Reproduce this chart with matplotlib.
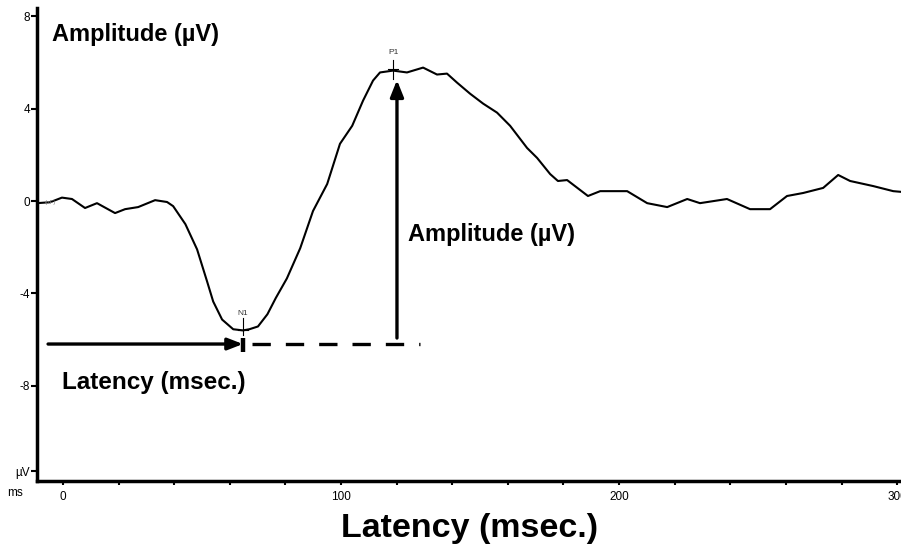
import numpy as np
import matplotlib.pyplot as plt

# ERP waveform (ms, uV)
latency = [-9.4, -4.7, -0.4, 3.2, 7.9, 12.2, 18.7, 22.3, 27.0, 33.1, 37.4, 39.6,
           44.0, 48.2, 51.8, 54.0, 57.2, 61.2, 64.7, 67.0, 70.1, 73.5, 76.5, 80.5,
           85.3, 89.9, 95.0, 99.6, 104.0, 107.9, 111.5, 114.0, 118.7, 123.7, 129.5,
           134.5, 138.1, 141.7, 146.4, 151.1, 156.1, 160.8, 166.9, 170.5, 175.2,
           178.0, 181.3, 188.8, 193.2, 202.9, 210.1, 217.3, 224.5, 229.1, 238.8,
           247.1, 254.3, 260.4, 266.2, 273.4, 278.8, 283.1, 291.4, 298.6, 301.4]
amplitude = [-0.09, -0.05, 0.15, 0.09, -0.30, -0.09, -0.52, -0.35, -0.26, 0.04, -0.04, -0.22,
             -1.00, -2.09, -3.48, -4.35, -5.13, -5.55, -5.60, -5.55, -5.43, -4.90, -4.20, -3.35,
             -2.04, -0.43, 0.74, 2.48, 3.26, 4.35, 5.22, 5.57, 5.65, 5.57, 5.78,
             5.48, 5.52, 5.13, 4.65, 4.22, 3.83, 3.26, 2.30, 1.87, 1.17,
             0.87, 0.91, 0.22, 0.43, 0.43, -0.09, -0.26, 0.09, -0.09, 0.09,
             -0.35, -0.35, 0.22, 0.35, 0.57, 1.13, 0.87, 0.65, 0.43, 0.40]

y_ticks = [8, 4, 0, -4, -8, -11.7]
y_tick_labels = ["8", "4", "0", "-4", "-8", "µV"]
x_ticks = [0, 100, 200, 300]
x_minor = np.arange(0, 301, 20)

n1 = (64.7, -5.6)
p1 = (118.7, 5.7)
base_level = -6.19

plt.rcParams['font.family'] = ['Liberation Sans', 'DejaVu Sans']

fig = plt.figure(figsize=(9.01, 5.5), dpi=100)
ax = fig.add_axes([0.041, 0.1255, 0.959, 0.8595])
ax.set_xlim(-9.4, 301.4)
ax.set_ylim(-12.12, 8.35)

ax.plot(latency, amplitude, color='black', lw=1.5, solid_joinstyle='round')

# axes look
for s in ['top', 'right']:
    ax.spines[s].set_visible(False)
ax.spines['left'].set_linewidth(2.5)
ax.spines['bottom'].set_linewidth(2.5)
ax.set_yticks(y_ticks)
ax.set_yticklabels(y_tick_labels)
ax.set_xticks(x_ticks)
ax.set_xticks(x_minor, minor=True)
ax.tick_params(axis='y', direction='out', length=4, width=1.5, labelsize=8.5, pad=1)
ax.tick_params(axis='x', which='both', direction='out', length=3, width=1.5,
               labelsize=8.5, pad=4)
ax.text(-17.3, -12.64, "ms", fontsize=8.5, ha='center', va='center', clip_on=False)
ax.text(-6.5, -0.05, "(uF)", fontsize=4.5, color='gray', ha='left', va='center')

# peak markers
ax.plot([n1[0], n1[0]], [-5.06, -5.8], color='black', lw=0.8)
ax.plot([n1[0] - 1.8, n1[0] + 1.8], [n1[1], n1[1]], color='black', lw=0.8)
ax.text(n1[0], -4.85, "N1", fontsize=6, ha='center', va='center', color='#333333')
ax.plot([p1[0], p1[0]], [6.1, 5.3], color='black', lw=0.8)
ax.plot([p1[0] - 1.8, p1[0] + 1.8], [p1[1], p1[1]], color='black', lw=0.8)
ax.text(p1[0], 6.45, "P1", fontsize=6, ha='center', va='center', color='#333333')

# latency arrow
ax.annotate("", xy=(n1[0], base_level), xytext=(-5.4, base_level),
            arrowprops=dict(arrowstyle='-|>,head_length=0.9,head_width=0.35',
                            color='black', lw=2.4, shrinkA=0, shrinkB=0))
ax.plot([n1[0], n1[0]], [-5.93, -6.54], color='black', lw=3.2, solid_capstyle='butt')
ax.plot([68.0, 128.4], [base_level, base_level], color='black', lw=2.4,
        dashes=(5.5, 4.5), dash_capstyle='butt')

# amplitude arrow
ax.annotate("", xy=(120.1, 5.24), xytext=(120.1, -5.93),
            arrowprops=dict(arrowstyle='-|>,head_length=1.0,head_width=0.4',
                            color='black', lw=2.4, shrinkA=0, shrinkB=0))

# labels
fig.text(52 / 901, 1 - 34 / 550, "Amplitude (µV)", fontsize=17, fontweight='bold',
         ha='left', va='center')
fig.text(408 / 901, 1 - 234 / 550, "Amplitude (µV)", fontsize=17, fontweight='bold',
         ha='left', va='center')
fig.text(62 / 901, 1 - 382 / 550, "Latency (msec.)", fontsize=17.5, fontweight='bold',
         ha='left', va='center')
fig.text(470 / 901, 1 - 529 / 550, "Latency (msec.)", fontsize=24.5, fontweight='bold',
         ha='center', va='center')

fig.savefig("out.png", dpi=100)
